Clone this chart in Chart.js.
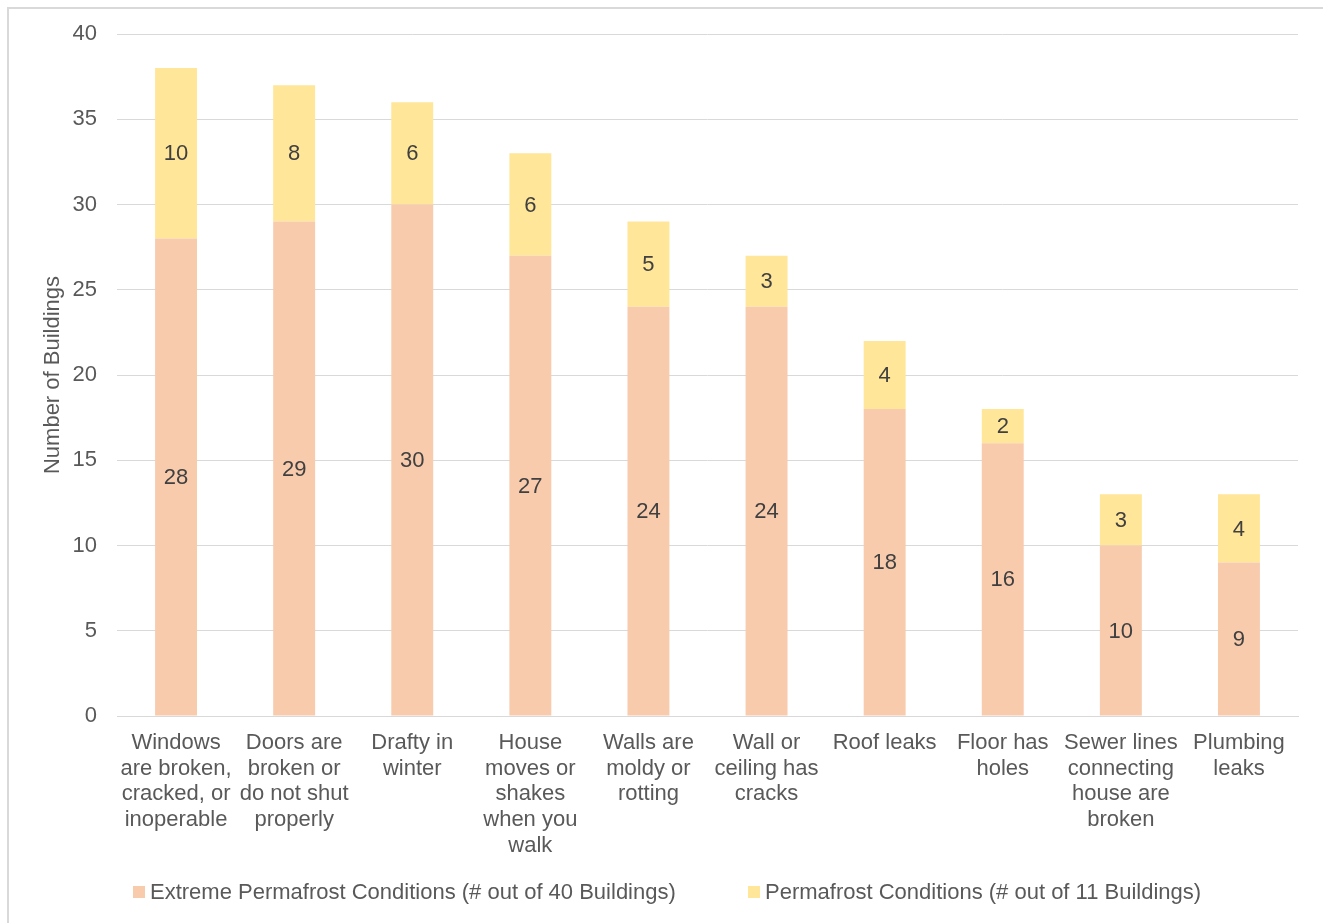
<!DOCTYPE html>
<html>
<head>
<meta charset="utf-8">
<script src="https://cdn.jsdelivr.net/npm/chart.js"></script>
<style>
  html, body { margin: 0; padding: 0; background: #fff; }
  #wrap { position: relative; width: 1323px; height: 923px; }
  #frame { position: absolute; left: 7px; top: 7px; width: 1330px; height: 930px;
           border-left: 2px solid #d9d9d9; border-top: 2px solid #d9d9d9; }
  #chart { position: absolute; left: 0; top: 0; }
</style>
</head>
<body>
<div id="wrap">
  <div id="frame"></div>
  <canvas id="chart" width="1323" height="923"></canvas>
</div>
<script>
// categories and values
const categories = [
  ['Windows', 'are broken,', 'cracked, or', 'inoperable'],
  ['Doors are', 'broken or', 'do not shut', 'properly'],
  ['Drafty in', 'winter'],
  ['House', 'moves or', 'shakes', 'when you', 'walk'],
  ['Walls are', 'moldy or', 'rotting'],
  ['Wall or', 'ceiling has', 'cracks'],
  ['Roof leaks'],
  ['Floor has', 'holes'],
  ['Sewer lines', 'connecting', 'house are', 'broken'],
  ['Plumbing', 'leaks']
];
const extremeValues = [28, 29, 30, 27, 24, 24, 18, 16, 10, 9];
const permafrostValues = [10, 8, 6, 6, 5, 3, 4, 2, 3, 4];
const seriesNames = [
  'Extreme Permafrost Conditions (# out of 40 Buildings)',
  'Permafrost Conditions (# out of 11 Buildings)'
];
const yTicks = [0, 5, 10, 15, 20, 25, 30, 35, 40];

const FONT = "'Liberation Sans', Arial, sans-serif";
const TEXT = '#595959';

// 柱内数值标签
const barLabels = {
  id: 'barLabels',
  afterDatasetsDraw(chart) {
    const ctx = chart.ctx;
    ctx.save();
    ctx.font = '22px ' + FONT;
    ctx.fillStyle = '#404040';
    ctx.textAlign = 'center';
    ctx.textBaseline = 'middle';
    chart.data.datasets.forEach((ds, i) => {
      chart.getDatasetMeta(i).data.forEach((bar, j) => {
        const p = bar.getProps(['x', 'y', 'base'], true);
        ctx.fillText(ds.data[j], p.x, (p.y + p.base) / 2 + 1);
      });
    });
    ctx.restore();
  }
};

// 底部图例
const bottomLegend = {
  id: 'bottomLegend',
  afterDraw(chart) {
    const ctx = chart.ctx;
    const starts = [133, 748];
    const y = 892;
    ctx.save();
    ctx.font = '22px ' + FONT;
    ctx.textBaseline = 'middle';
    ctx.textAlign = 'left';
    chart.data.datasets.forEach((ds, i) => {
      ctx.fillStyle = ds.backgroundColor;
      ctx.fillRect(starts[i], y - 6, 12, 12);
      ctx.fillStyle = TEXT;
      ctx.fillText(ds.label, starts[i] + 17, y + 1);
    });
    ctx.restore();
  }
};

new Chart(document.getElementById('chart'), {
  type: 'bar',
  data: {
    labels: categories,
    datasets: [
      { label: seriesNames[0], data: extremeValues, backgroundColor: '#F8CBAD' },
      { label: seriesNames[1], data: permafrostValues, backgroundColor: '#FFE699' }
    ]
  },
  options: {
    responsive: false,
    animation: false,
    layout: { padding: { left: 36, right: 25, top: 34, bottom: 63 } },
    datasets: { bar: { barPercentage: 1, categoryPercentage: 0.355 } },
    plugins: {
      legend: { display: false },
      tooltip: { enabled: false }
    },
    scales: {
      x: {
        stacked: true,
        grid: { display: false, drawTicks: false },
        border: { display: true, color: '#d9d9d9', width: 1 },
        ticks: {
          color: TEXT, font: { family: FONT, size: 22, lineHeight: 1.17 },
          padding: 14, maxRotation: 0, autoSkip: false
        },
        afterFit(scale) { scale.height = 144; }
      },
      y: {
        stacked: true,
        min: 0, max: 40,
        afterBuildTicks(scale) { scale.ticks = yTicks.map(v => ({ value: v })); },
        grid: { color: '#d9d9d9', lineWidth: 1, drawTicks: false },
        border: { display: false },
        ticks: { color: TEXT, font: { family: FONT, size: 22 }, padding: 20 },
        title: {
          display: true, text: 'Number of Buildings', color: TEXT,
          font: { family: FONT, size: 22 }, padding: 4
        },
        afterFit(scale) { scale.width = 81; }
      }
    }
  },
  plugins: [barLabels, bottomLegend]
});
</script>
</body>
</html>
